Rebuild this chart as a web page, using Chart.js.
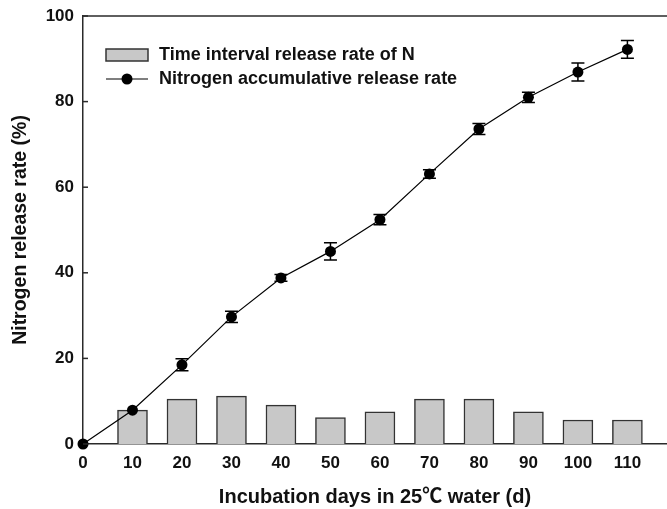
<!DOCTYPE html>
<html>
<head>
<meta charset="utf-8">
<script src="https://cdn.jsdelivr.net/npm/chart.js@4.4.1/dist/chart.umd.min.js"></script>
<style>
  html, body { margin: 0; padding: 0; background: #fff; }
  #wrap { width: 667px; height: 509px; }
</style>
</head>
<body>
<div id="wrap"><canvas id="c" width="667" height="509"></canvas></div>
<script>
// ---- data ----
const intervalDays = [10, 20, 30, 40, 50, 60, 70, 80, 90, 100, 110];
const intervalRate = [7.9, 10.5, 11.2, 9.1, 6.2, 7.5, 10.5, 10.5, 7.5, 5.6, 5.6];
const cumulativeDays = [0, 10, 20, 30, 40, 50, 60, 70, 80, 90, 100, 110];
const cumulativeRate = [0, 7.9, 18.5, 29.7, 38.8, 45.0, 52.4, 63.1, 73.6, 81.0, 86.9, 92.2];
const cumulativeErr  = [0, 0, 1.4, 1.3, 0.8, 2.0, 1.2, 1.0, 1.3, 1.2, 2.1, 2.1];
const xTicks = [0, 10, 20, 30, 40, 50, 60, 70, 80, 90, 100, 110];
const yTicks = [0, 20, 40, 60, 80, 100];
const barLabel = 'Time interval release rate of N';
const lineLabel = 'Nitrogen accumulative release rate';
const xTitle = 'Incubation days in 25\u2103 water (d)';
const yTitle = 'Nitrogen release rate (%)';

const FONT = "'Liberation Sans', Arial, 'Noto Sans CJK SC', sans-serif";
Chart.defaults.font.family = FONT;
Chart.defaults.color = '#111';

const AXIS = '#2a2a2a';

const extras = {
  id: 'extras',
  afterDatasetsDraw(chart) {
    const ctx = chart.ctx;
    const xs = chart.scales.x, ys = chart.scales.y;
    const ca = chart.chartArea;
    ctx.save();
    // top frame line
    ctx.strokeStyle = AXIS;
    ctx.lineWidth = 1.5;
    ctx.beginPath();
    ctx.moveTo(ca.left, ca.top);
    ctx.lineTo(ca.right, ca.top);
    ctx.stroke();
    // inward y ticks
    yTicks.forEach(v => {
      const py = ys.getPixelForValue(v);
      ctx.beginPath();
      ctx.moveTo(ca.left, py);
      ctx.lineTo(ca.left + 5, py);
      ctx.stroke();
    });
    // error bars
    ctx.strokeStyle = '#000';
    ctx.lineWidth = 1.5;
    cumulativeDays.forEach((d, i) => {
      const e = cumulativeErr[i];
      if (!e) return;
      const px = xs.getPixelForValue(d);
      const top = ys.getPixelForValue(cumulativeRate[i] + e);
      const bot = ys.getPixelForValue(cumulativeRate[i] - e);
      ctx.beginPath();
      ctx.moveTo(px, top); ctx.lineTo(px, bot);
      ctx.moveTo(px - 6.5, top); ctx.lineTo(px + 6.5, top);
      ctx.moveTo(px - 6.5, bot); ctx.lineTo(px + 6.5, bot);
      ctx.stroke();
    });
    // legend
    const lineDs = chart.data.datasets[0];
    const barDs = chart.data.datasets[1];
    const lx = ca.left + 23, lw = 42, tx = ca.left + 76;
    ctx.fillStyle = barDs.backgroundColor;
    ctx.fillRect(lx, 49, lw, 12);
    ctx.strokeStyle = barDs.borderColor;
    ctx.lineWidth = 1.5;
    ctx.strokeRect(lx, 49, lw, 12);
    ctx.strokeStyle = lineDs.borderColor;
    ctx.lineWidth = 1.2;
    ctx.beginPath();
    ctx.moveTo(lx, 79); ctx.lineTo(lx + lw, 79);
    ctx.stroke();
    ctx.fillStyle = lineDs.pointBackgroundColor;
    ctx.beginPath();
    ctx.arc(lx + lw / 2, 79, 5.5, 0, Math.PI * 2);
    ctx.fill();
    ctx.fillStyle = '#111';
    ctx.font = 'bold 18px ' + FONT;
    ctx.textBaseline = 'middle';
    ctx.textAlign = 'left';
    ctx.fillText(barDs.label, tx, 55);
    ctx.fillText(lineDs.label, tx, 79);
    ctx.restore();
  }
};

new Chart(document.getElementById('c'), {
  type: 'bar',
  data: {
    datasets: [
      {
        type: 'line',
        label: lineLabel,
        data: cumulativeDays.map((d, i) => ({ x: d, y: cumulativeRate[i] })),
        borderColor: '#000',
        borderWidth: 1.2,
        pointRadius: 5.5,
        pointBackgroundColor: '#000',
        pointBorderColor: '#000',
        pointBorderWidth: 0,
        tension: 0,
        clip: false,
        order: 0
      },
      {
        type: 'bar',
        label: barLabel,
        data: intervalDays.map((d, i) => ({ x: d, y: intervalRate[i] })),
        backgroundColor: '#c8c8c8',
        borderColor: '#333',
        borderWidth: 1.5,
        barThickness: 30,
        order: 1
      }
    ]
  },
  options: {
    responsive: false,
    animation: false,
    devicePixelRatio: 1,
    layout: { autoPadding: false, padding: { top: 16, right: 0, left: 0, bottom: 0 } },
    plugins: { legend: { display: false }, tooltip: { enabled: false } },
    scales: {
      x: {
        type: 'linear',
        min: 0,
        max: 118,
        offset: false,
        grid: { display: false, offset: false, drawTicks: false },
        border: { display: true, color: AXIS, width: 1.5 },
        afterBuildTicks: (s) => { s.ticks = xTicks.map(v => ({ value: v })); },
        ticks: { padding: 9, font: { size: 17, weight: 'bold' }, color: '#111', maxRotation: 0, autoSkip: false },
        title: { display: true, text: xTitle, font: { size: 20, weight: 'bold' }, color: '#111', padding: { top: 12, bottom: 0 } },
        afterFit: (s) => { s.height = 65; s.paddingLeft = 0; s.paddingRight = 0; }
      },
      y: {
        min: 0,
        max: 100,
        grid: { display: false, drawTicks: false },
        border: { display: true, color: AXIS, width: 1.5 },
        afterBuildTicks: (s) => { s.ticks = yTicks.map(v => ({ value: v })); },
        ticks: { padding: 9, font: { size: 17, weight: 'bold' }, color: '#111' },
        title: { display: true, text: yTitle, font: { size: 19.5, weight: 'bold' }, color: '#111', padding: { top: 9, bottom: 0 } },
        afterFit: (s) => { s.width = 83; s.paddingTop = 0; s.paddingBottom = 0; }
      }
    }
  },
  plugins: [extras]
});
</script>
</body>
</html>
